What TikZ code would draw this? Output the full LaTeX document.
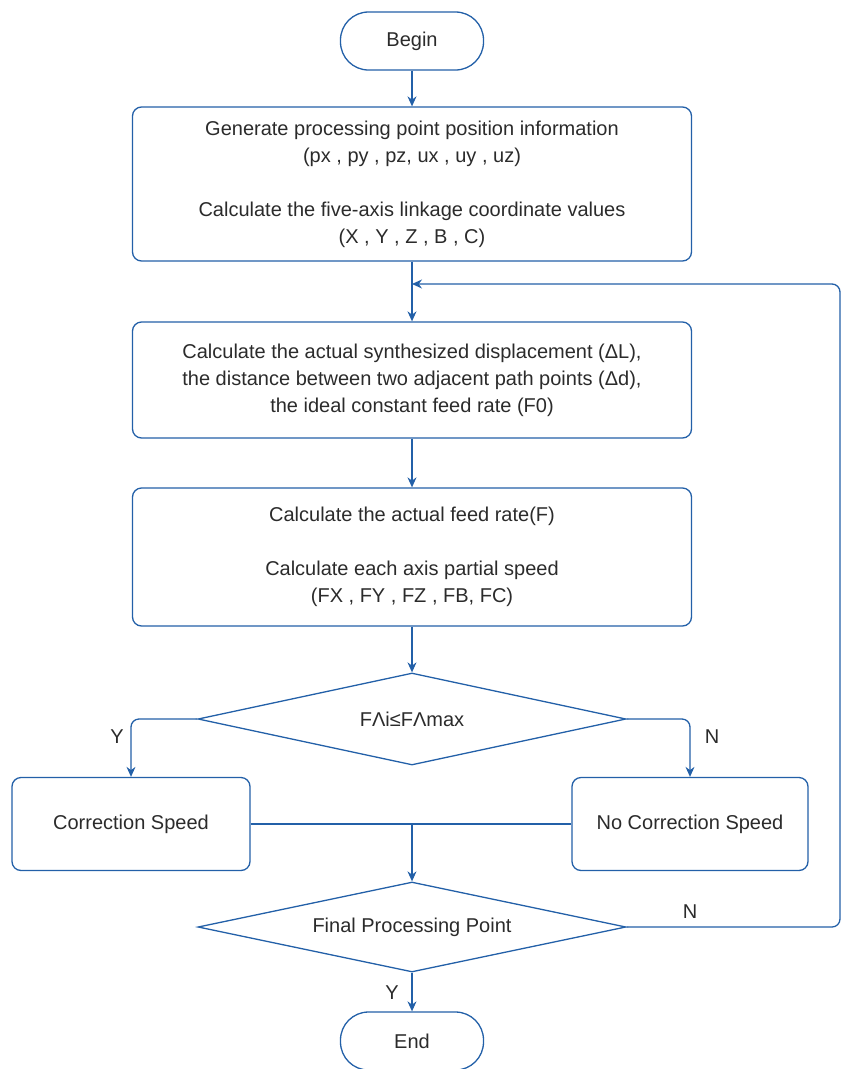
\documentclass[tikz,border=0pt]{standalone}
\usepackage{fontspec}
\setmainfont{Liberation Sans}
\usetikzlibrary{arrows.meta,shapes.geometric}
\definecolor{flowblue}{HTML}{2360A8}
\definecolor{txtgray}{HTML}{2B2B2B}

\begin{document}
\begin{tikzpicture}[x=1pt, y=-1pt, font=\fontsize{20}{27}\selectfont,
  every node/.style={text=txtgray},
  proc/.style={draw=flowblue, line width=1.3pt, rounded corners=9pt, align=center, minimum width=559pt, inner sep=0pt},
  term/.style={draw=flowblue, line width=1.3pt, rounded corners=28pt, minimum width=143pt, minimum height=58pt},
  choice/.style={draw=flowblue, line width=1.3pt, diamond, shape aspect=4.55, inner sep=0pt, minimum width=428pt, minimum height=92pt},
  flow/.style={draw=flowblue, line width=1.3pt, -{Stealth[length=10pt, width=9pt]}},
  link/.style={draw=flowblue, line width=1.3pt}]
\useasboundingbox (0,0) rectangle (842,1069);

\node[term] (begin) at (412,41) {Begin};

\node[proc, minimum height=154pt] (gen) at (412,184) {Generate processing point position information\\(px , py , pz, ux , uy , uz)\\[27pt]Calculate the five-axis linkage coordinate values\\(X , Y , Z , B , C)};

\node[proc, minimum height=116pt] (calc) at (412,380) {Calculate the actual synthesized displacement (ΔL),\\the distance between two adjacent path points (Δd),\\the ideal constant feed rate (F0)};

\node[proc, minimum height=138pt] (feed) at (412,557) {Calculate the actual feed rate(F)\\[27pt]Calculate each axis partial speed\\(FX , FY , FZ , FB, FC)};

\node[choice] (check) at (412,719) {FΛi≤FΛmax};

\node[proc, minimum width=238pt, minimum height=93pt] (corr) at (131,824) {Correction Speed};
\node[proc, minimum width=236pt, minimum height=93pt] (nocorr) at (690,824) {No Correction Speed};

\node[choice, minimum height=90pt] (final) at (412,927) {Final Processing Point};

\node[term] (finish) at (412,1041) {End};

\coordinate (join) at (412,284);
\coordinate (merge) at (412,824);

\draw[flow] (begin) -- (gen);
\draw[flow] (gen) -- (calc);
\draw[flow] (calc) -- (feed);
\draw[flow] (feed) -- (check);
\draw[flow, rounded corners=8pt] (check.west) -| (corr.north);
\draw[flow, rounded corners=8pt] (check.east) -| (nocorr.north);
\draw[link] (corr.east) -- (nocorr.west);
\draw[flow] (merge) -- (final.north);
\draw[flow, rounded corners=8pt] (final.east) -- (840,927) -- (840,284) -- (join);
\draw[flow] (final.south) -- (finish.north);

\node (yes1) at (117,737) {Y};
\node (no1) at (712,737) {N};
\node (no2) at (690,912) {N};
\node (yes2) at (392,993) {Y};
\end{tikzpicture}
\end{document}
